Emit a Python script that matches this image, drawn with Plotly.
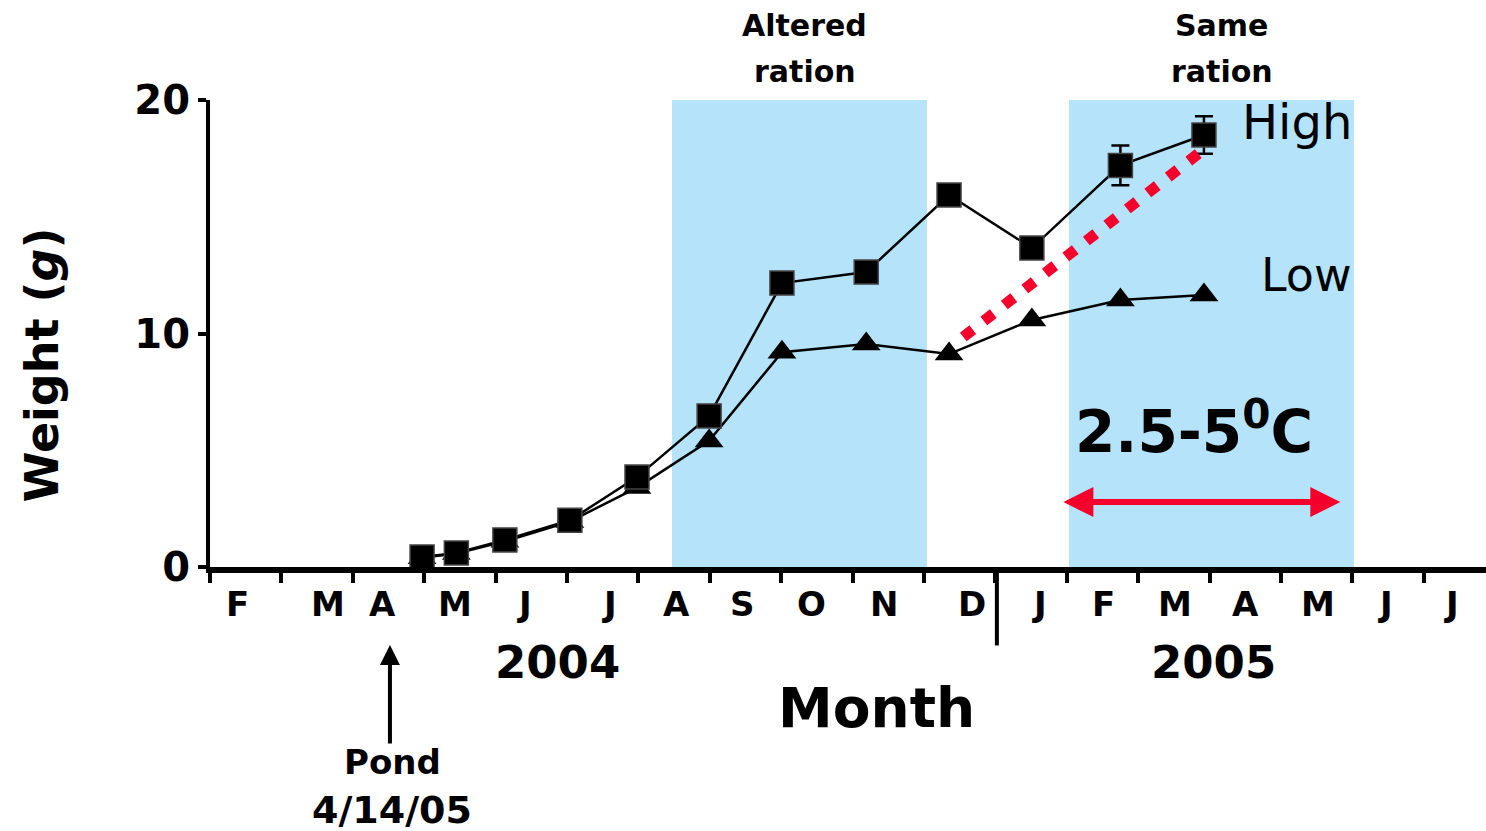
import plotly.graph_objects as go

# ---- data (x = months since start of Feb 2004, tick k = month boundary) ----
month_labels = ["F", "M", "A", "M", "J", "J", "A", "S", "O", "N", "D",
                "J", "F", "M", "A", "M", "J", "J"]
month_label_x = [0.39, 1.65, 2.41, 3.43, 4.41, 5.60, 6.54, 7.46, 8.43, 9.44,
                 10.67, 11.62, 12.52, 13.52, 14.50, 15.52, 16.46, 17.39]
tick_vals = list(range(18))

sample_x = [2.97, 3.45, 4.13, 5.04, 5.98, 6.99, 8.01, 9.19, 10.35, 11.51, 12.75, 13.92]
high_y = [0.43, 0.60, 1.16, 2.00, 3.85, 6.47, 12.16, 12.63, 15.93, 13.66, 17.20, 18.50]
high_err = [0, 0, 0, 0, 0, 0, 0, 0, 0, 0, 0.85, 0.80]
low_y = [0.40, 0.58, 1.10, 1.95, 3.40, 5.40, 9.20, 9.55, 9.12, 10.58, 11.43, 11.65]

trend_x = [10.55, 13.94]
trend_y = [9.85, 17.94]

altered_span = [6.47, 10.04]
same_span = [12.03, 16.02]
shade_top = 20.1

temp_span = [11.93, 15.83]
temp_y = 2.78

X_MAX = 17.87
Y_MAX = 20.0

FONT = "DejaVu Sans"
BLUE = "#B5E4FA"
RED = "#F5002D"

fig = go.Figure()

for span in (altered_span, same_span):
    fig.add_shape(type="rect", xref="x", yref="y", x0=span[0], x1=span[1],
                  y0=0, y1=shade_top, fillcolor=BLUE, line_width=0, layer="below")

fig.add_trace(go.Scatter(x=sample_x, y=low_y, mode="lines+markers",
                         line=dict(color="black", width=2.5),
                         marker=dict(symbol="triangle-up", size=25, color="black"),
                         cliponaxis=False, showlegend=False))
fig.add_trace(go.Scatter(x=sample_x, y=high_y, mode="lines+markers",
                         line=dict(color="black", width=2.5),
                         marker=dict(symbol="square", size=24, color="black",
                                     line=dict(color="#444", width=1.5)),
                         error_y=dict(type="data", array=high_err, visible=True,
                                      color="black", thickness=2.5, width=9),
                         cliponaxis=False, showlegend=False))
fig.add_trace(go.Scatter(x=trend_x, y=trend_y, mode="lines",
                         line=dict(color=RED, width=11, dash="12px,14px"),
                         showlegend=False))

# divider between 2004 and 2005
fig.add_shape(type="line", xref="x", yref="paper", x0=11.02, x1=11.02,
              y0=0, y1=-0.168, line=dict(color="black", width=4))

ann = []
def txt(x, y, s, size, bold=True, **kw):
    # x, y in data units; placed in paper space so text outside the axes shows
    ann.append(dict(x=x / X_MAX, y=y / Y_MAX, xref="paper", yref="paper",
                    text=s, showarrow=False,
                    xanchor="center", yanchor="middle",
                    font=dict(family=FONT, size=size, color="black",
                              weight="bold" if bold else "normal"), **kw))

for lx, lab in zip(month_label_x, month_labels):
    txt(lx, -1.58, lab, 34)

txt(8.33, 23.21, "Altered", 30)
txt(8.33, 21.20, "ration", 30)
txt(14.17, 23.21, "Same", 30)
txt(14.17, 21.20, "ration", 30)
txt(15.22, 19.06, "High", 48, bold=False)
txt(15.36, 12.50, "Low", 46, bold=False)
txt(13.78, 5.95, "2.5-5<sup>0</sup>C", 58)
txt(4.87, -4.07, "2004", 45)
txt(14.05, -4.07, "2005", 45)
txt(9.33, -6.04, "Month", 55)
txt(-2.35, 8.65, "Weight (<i>g</i>)", 46, textangle=-90)
txt(2.55, -8.35, "Pond", 34)
txt(2.55, -10.41, "4/14/05", 38)

# Pond arrow (head position in paper space, tail offset in pixels)
ann.append(dict(x=2.52 / X_MAX, y=-3.34 / Y_MAX, xref="paper", yref="paper",
                ax=0, ay=100, text="", showarrow=True,
                arrowhead=2, arrowsize=1, arrowwidth=4, arrowcolor="black"))
# temperature double arrow
ann.append(dict(x=temp_span[1], y=temp_y, xref="x", yref="y",
                ax=temp_span[0], ay=temp_y, axref="x", ayref="y", text="",
                showarrow=True, arrowhead=2, startarrowhead=2, arrowside="end+start",
                arrowsize=1, startarrowsize=1, arrowwidth=6, arrowcolor=RED))

fig.update_layout(
    width=1486, height=831,
    margin=dict(l=210, r=0, t=100, b=264),
    plot_bgcolor="white", paper_bgcolor="white",
    annotations=ann,
    xaxis=dict(range=[0, X_MAX], showgrid=False, zeroline=False,
               showline=True, linecolor="black", linewidth=6,
               tickmode="array", tickvals=tick_vals, ticks="outside",
               ticklen=10, tickwidth=4, tickcolor="black",
               showticklabels=False),
    yaxis=dict(range=[0, Y_MAX], showgrid=False, zeroline=False,
               showline=True, linecolor="black", linewidth=4,
               tickmode="array", tickvals=[0, 10, 20], ticks="outside",
               ticklen=8, tickwidth=4, tickcolor="black",
               tickfont=dict(family=FONT, size=40, color="black", weight="bold")),
)

fig.write_html("out.html", config={"displayModeBar": False},
               post_script="document.body.style.margin='0';")
